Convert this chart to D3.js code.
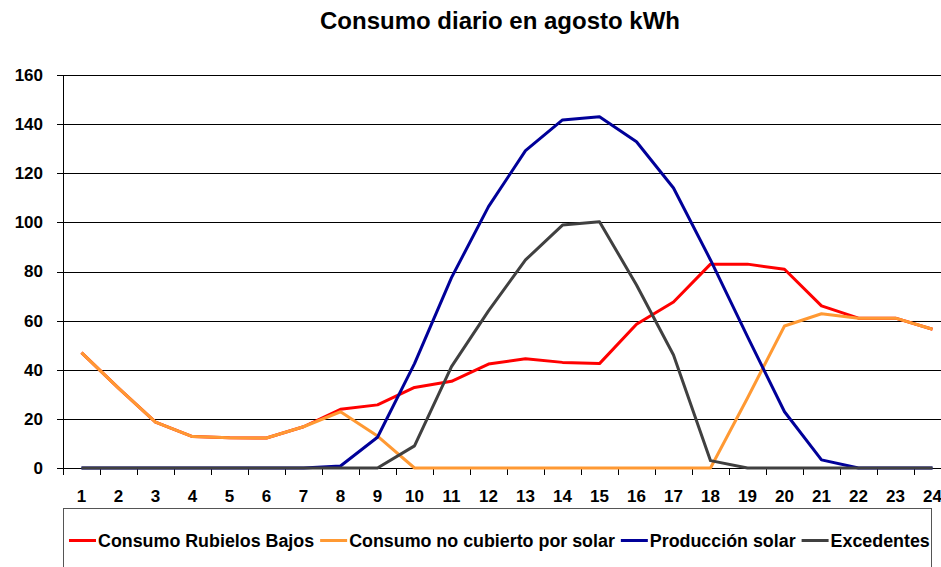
<!DOCTYPE html>
<html>
<head>
<meta charset="utf-8">
<title>Consumo diario en agosto kWh</title>
<script src="https://d3js.org/d3.v7.min.js"></script>
<style>
  body { margin: 0; background: #fff; }
  svg { font-family: "Liberation Sans", Arial, sans-serif; font-weight: bold; }
  .grid line { stroke: #000; shape-rendering: crispEdges; }
  .grid path { display: none; }
  .axis path, .axis line { stroke: #000; shape-rendering: crispEdges; }
  .axis text { fill: #000; font-size: 17px; font-weight: bold; }
  .serie { fill: none; stroke-width: 3px; stroke-linejoin: round; }
</style>
</head>
<body>
<svg width="941" height="567"></svg>
<script>
const hours = d3.range(1, 25);
const yTicks = [0, 20, 40, 60, 80, 100, 120, 140, 160];

const consumo = [47, 32.5, 18.7, 12.8, 12.3, 12.2, 16.8, 23.9, 25.7, 32.8, 35.3, 42.3, 44.5, 43, 42.5, 58.5, 67.6, 83, 83, 80.9, 66, 61, 61, 56.5];
const noCubierto = [47, 32.5, 18.7, 12.8, 12.3, 12.2, 16.8, 22.9, 13, 0, 0, 0, 0, 0, 0, 0, 0, 0, 28.5, 57.8, 62.8, 61, 61, 56.5];
const produccion = [0, 0, 0, 0, 0, 0, 0, 0.8, 12.5, 42.5, 77.5, 106.4, 129.2, 141.7, 143, 132.8, 114, 84.7, 53.5, 22.9, 3.3, 0, 0, 0];
const excedentes = [0, 0, 0, 0, 0, 0, 0, 0, 0, 9, 41.3, 64, 84.7, 98.9, 100.3, 74.5, 46, 3, 0, 0, 0, 0, 0, 0];

const series = [
  { name: "Consumo Rubielos Bajos", values: consumo, color: "#ff0000" },
  { name: "Consumo no cubierto por solar", values: noCubierto, color: "#ff9933" },
  { name: "Producción solar", values: produccion, color: "#000099" },
  { name: "Excedentes", values: excedentes, color: "#404040" }
];

const svg = d3.select("svg");
const plotLeft = 63, plotTop = 75, plotBottom = 468, bandW = 37;

const x = d3.scaleBand()
  .domain(hours)
  .range([plotLeft, plotLeft + bandW * hours.length]);

const y = d3.scaleLinear()
  .domain([0, 160])
  .range([plotBottom, plotTop]);

// title
svg.append("text")
  .attr("x", 500)
  .attr("y", 29)
  .attr("text-anchor", "middle")
  .style("font-size", "24px")
  .text("Consumo diario en agosto kWh");

// gridlines
svg.append("g")
  .attr("class", "grid")
  .attr("transform", `translate(${plotLeft},0)`)
  .call(d3.axisLeft(y).tickValues(yTicks).tickSize(-(941 - plotLeft)).tickFormat(""));

// y axis
svg.append("g")
  .attr("class", "axis")
  .attr("transform", `translate(${plotLeft},0)`)
  .call(d3.axisLeft(y).tickValues(yTicks).tickSize(6).tickPadding(14).tickSizeOuter(0));

// x axis with ticks on band edges
const xAxis = svg.append("g")
  .attr("class", "axis")
  .attr("transform", `translate(0,${plotBottom})`)
  .call(d3.axisBottom(x).tickSize(0).tickPadding(22).tickSizeOuter(0));
xAxis.select(".domain").attr("d", `M${plotLeft},0.5H941`);
xAxis.selectAll(".edge")
  .data(hours)
  .enter().append("line")
  .attr("class", "edge")
  .attr("x1", d => x(d))
  .attr("x2", d => x(d))
  .attr("y1", 0)
  .attr("y2", 7);

// lines
const line = d3.line()
  .x((d, i) => x(hours[i]) + x.bandwidth() / 2)
  .y(d => y(d));

svg.selectAll(".serie")
  .data(series)
  .enter().append("path")
  .attr("class", "serie")
  .attr("d", d => line(d.values))
  .style("stroke", d => d.color);

// legend
svg.append("rect")
  .attr("x", plotLeft + 0.5)
  .attr("y", 508.5)
  .attr("width", 868)
  .attr("height", 80)
  .style("fill", "none")
  .style("stroke", "#555")
  .style("stroke-width", 1);

const legend = svg.append("g").style("font-size", "17.85px");
let lx = 69;
series.forEach(s => {
  legend.append("line")
    .attr("x1", lx).attr("x2", lx + 27)
    .attr("y1", 540.5).attr("y2", 540.5)
    .style("stroke", s.color)
    .style("stroke-width", 3);
  const t = legend.append("text")
    .attr("x", lx + 29)
    .attr("y", 546.5)
    .text(s.name);
  lx += 29 + t.node().getComputedTextLength() + 6;
});
</script>
</body>
</html>
